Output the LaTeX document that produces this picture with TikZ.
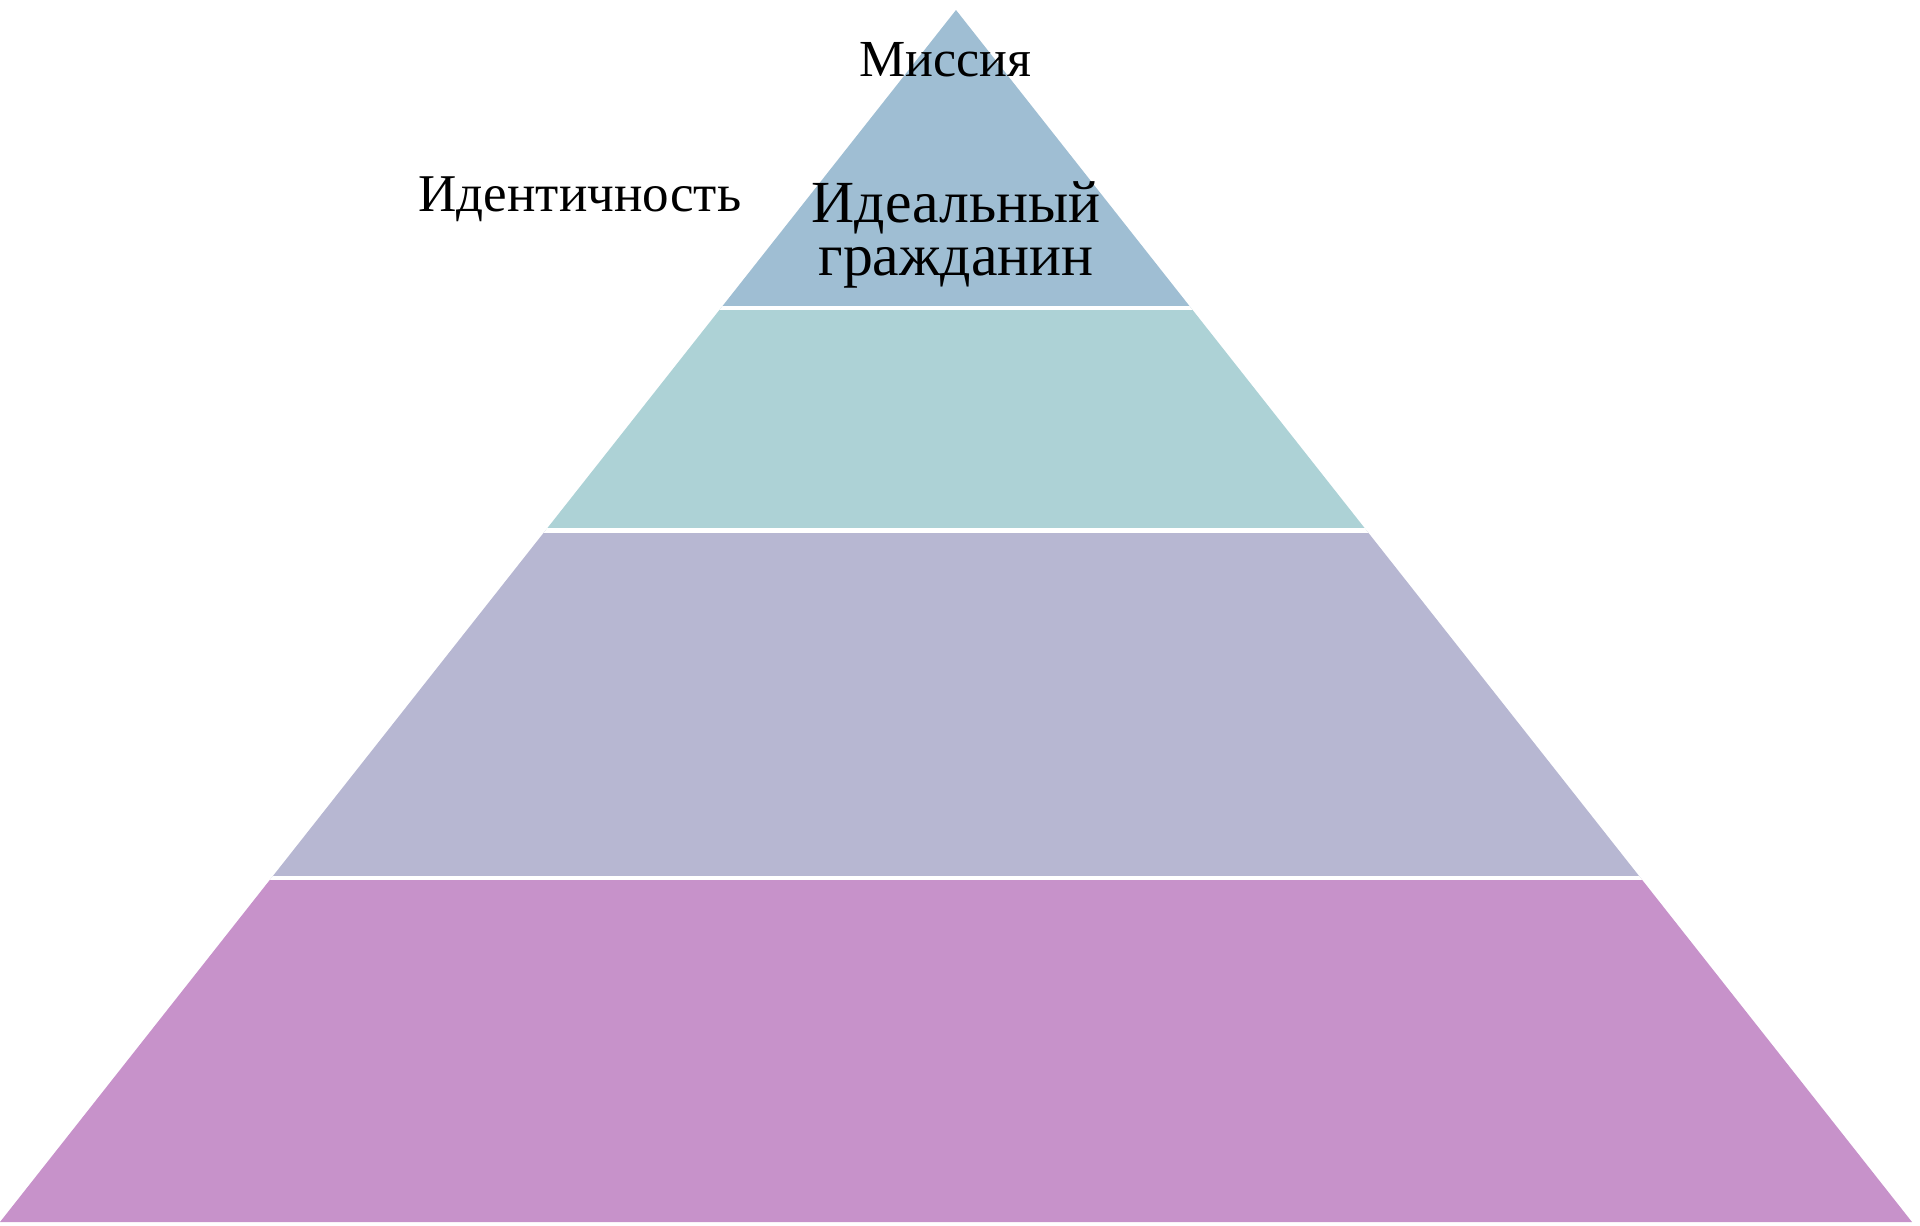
\documentclass[tikz,border=0pt]{standalone}
\usepackage{fontspec}
\setmainfont{Liberation Serif}
\usepackage{xcolor}
\usetikzlibrary{positioning,calc}

\definecolor{levelone}{RGB}{159,190,211}
\definecolor{leveltwo}{RGB}{173,210,214}
\definecolor{levelthree}{RGB}{183,183,210}
\definecolor{levelfour}{RGB}{199,146,202}

\begin{document}
\begin{tikzpicture}[
    x=0.02cm, y=-0.02cm,
    band/.style={draw=none},
    gap/.style={draw=white, line width=0.09cm},
    label/.style={font=\fontsize{29.6}{31}\selectfont, text=black, inner sep=0pt},
    biglabel/.style={font=\fontsize{34}{30}\selectfont, text=black, inner sep=0pt, align=center}
]
\useasboundingbox (0,0) rectangle (1920,1225);

% Pyramid outline
\coordinate (apex) at (956,10);
\coordinate (bl) at (0,1222);
\coordinate (br) at (1912,1222);

% Levels
\begin{scope}
    \clip (apex) -- (bl) -- (br) -- cycle;
    \fill[band, levelone] (0,0) rectangle (1920,308);
    \fill[band, leveltwo] (0,308) rectangle (1920,530);
    \fill[band, levelthree] (0,530) rectangle (1920,878);
    \fill[band, levelfour] (0,878) rectangle (1920,1225);
    % Separators
    \foreach \y in {308,530.5,878} {
        \draw[gap] (0,\y) -- (1920,\y);
    }
\end{scope}

% Labels
\node[label, anchor=base] (mission) at (945,76) {Миссия};
\node[label, anchor=base, font=\fontsize{30.2}{31}\selectfont] (identity) at (580,211) {Идентичность};
\node[biglabel, anchor=base] (ideal) at (956,275) {Идеальный\\гражданин};

\end{tikzpicture}
\end{document}
